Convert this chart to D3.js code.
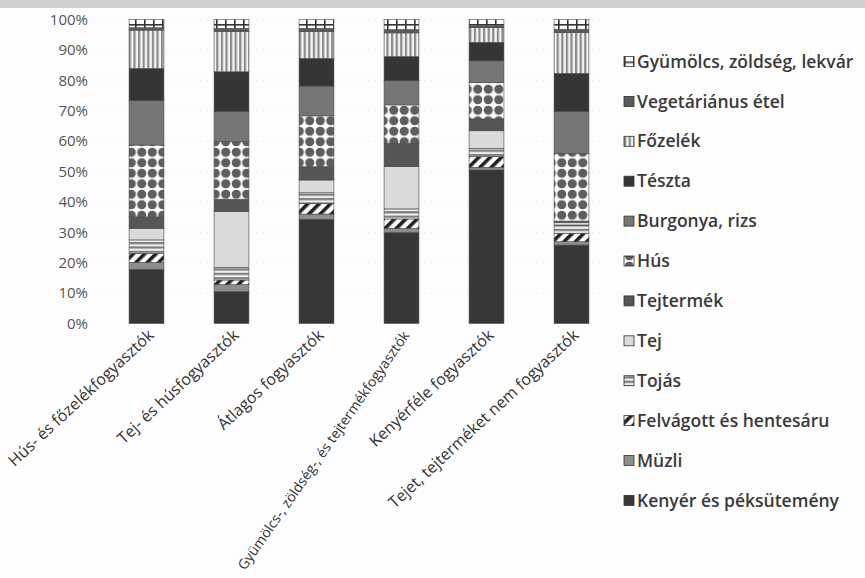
<!DOCTYPE html>
<html>
<head>
<meta charset="utf-8">
<script src="https://cdn.jsdelivr.net/npm/d3@7"></script>
<style>
  html, body { margin: 0; padding: 0; background: #fdfdfd; }
  svg { display: block; }
  text { font-family: "Open Sans", "Noto Sans", sans-serif; }
</style>
</head>
<body>
<svg id="chart" width="865" height="578"></svg>
<script>
// Consumer groups (x categories)
const groups = [
  "Hús- és főzelékfogyasztók",
  "Tej- és húsfogyasztók",
  "Átlagos fogyasztók",
  "Gyümölcs-, zöldség-, és tejtermékfogyasztók",
  "Kenyérféle fogyasztók",
  "Tejet, tejterméket nem fogyasztók"
];

// Food categories, bottom of the stack first
const foods = [
  "Kenyér és péksütemény", "Müzli", "Felvágott és hentesáru", "Tojás", "Tej",
  "Tejtermék", "Hús", "Burgonya, rizs", "Tészta", "Főzelék",
  "Vegetáriánus étel", "Gyümölcs, zöldség, lekvár"
];

// Share of each food (%) per group, in the order of `groups`
const kenyer      = [17.8, 10.5, 34.3, 29.9, 50.5, 25.8];
const muzli       = [ 2.3,  2.3,  1.7,  1.4,  0.9,  1.1];
const felvagott   = [ 3.0,  1.5,  3.5,  3.1,  3.5,  2.8];
const tojas       = [ 4.4,  4.1,  3.5,  3.3,  2.7,  2.7];
const tej         = [ 3.8, 18.4,  4.2, 13.9,  5.8,  0.9];
const tejtermek   = [ 3.8,  4.1,  4.4,  7.7,  3.9,  0.4];
const hus         = [23.6, 18.9, 16.7, 12.6, 11.9, 22.3];
const burgonya    = [14.6,  9.9,  9.8,  8.0,  7.2, 13.7];
const teszta      = [10.6, 13.1,  9.1,  7.9,  6.1, 12.6];
const fozelek     = [12.6, 13.2,  8.8,  7.8,  4.9, 13.4];
const vegetarianus= [ 0.8,  1.1,  1.1,  1.1,  0.5,  1.1];
const gyumolcs    = [ 2.7,  2.9,  2.9,  3.3,  2.1,  3.2];

const seriesValues = [kenyer, muzli, felvagott, tojas, tej, tejtermek,
                      hus, burgonya, teszta, fozelek, vegetarianus, gyumolcs];

const yTicks = [0, 10, 20, 30, 40, 50, 60, 70, 80, 90, 100];

// ---- build rows for d3.stack ----
const rows = groups.map((g, i) => {
  const r = { group: g };
  foods.forEach((f, k) => { r[f] = seriesValues[k][i]; });
  return r;
});

const svg = d3.select("#chart");

// pattern / fill definitions
const defs = svg.append("defs");

function pat(id, w, h, draw) {
  const p = defs.append("pattern").attr("id", id)
    .attr("patternUnits", "userSpaceOnUse").attr("width", w).attr("height", h);
  draw(p);
}
// fruit: white cells with dark grid lines
pat("p-gyum", 9, 12, p => {
  p.append("rect").attr("width", 9).attr("height", 12).attr("fill", "#fff");
  p.append("rect").attr("x", 0).attr("y", 0).attr("width", 1.6).attr("height", 12).attr("fill", "#333");
  p.append("rect").attr("x", 0).attr("y", 0).attr("width", 9).attr("height", 1.6).attr("fill", "#333");
});
// vegetables: vertical stripes
pat("p-foz", 4.6, 10, p => {
  p.append("rect").attr("width", 4.6).attr("height", 10).attr("fill", "#f4f4f4");
  p.append("rect").attr("x", 0).attr("width", 2.2).attr("height", 10).attr("fill", "#8a8a8a");
});
// meat: dots
pat("p-hus", 10.5, 10.5, p => {
  p.append("rect").attr("width", 10.5).attr("height", 10.5).attr("fill", "#fff");
  p.append("circle").attr("cx", 5.25).attr("cy", 5.25).attr("r", 4.6).attr("fill", "#5e5e5e");
});
// eggs: horizontal stripes
pat("p-tojas", 10, 4.4, p => {
  p.append("rect").attr("width", 10).attr("height", 4.4).attr("fill", "#eee");
  p.append("rect").attr("y", 0).attr("width", 10).attr("height", 2.2).attr("fill", "#7d7d7d");
});
// cold cuts: diagonal hatch
pat("p-felv", 8, 8, p => {
  p.attr("patternTransform", "rotate(45)");
  p.append("rect").attr("width", 8).attr("height", 8).attr("fill", "#fff");
  p.append("rect").attr("x", 0).attr("width", 3.6).attr("height", 8).attr("fill", "#222");
});

const fills = {
  "Kenyér és péksütemény": "#363636",
  "Müzli": "#8d8d8d",
  "Felvágott és hentesáru": "url(#p-felv)",
  "Tojás": "url(#p-tojas)",
  "Tej": "#dadada",
  "Tejtermék": "#555",
  "Hús": "url(#p-hus)",
  "Burgonya, rizs": "#767676",
  "Tészta": "#353535",
  "Főzelék": "url(#p-foz)",
  "Vegetáriánus étel": "#5a5a5a",
  "Gyümölcs, zöldség, lekvár": "url(#p-gyum)"
};

// faint band along the top edge of the page
svg.append("rect").attr("x", 0).attr("y", 0).attr("width", 865).attr("height", 8)
  .attr("fill", "#cfcfcf");

// ---- scales ----
const x = d3.scaleBand().domain(groups).range([104, 614])
  .paddingInner(0.59).paddingOuter(0.295);
const y = d3.scaleLinear().domain([0, 100]).range([323.5, 19.5]);

// faint dotted gridlines
svg.append("g").selectAll("line").data(yTicks.filter(t => t > 0)).join("line")
  .attr("x1", 95).attr("x2", 600)
  .attr("y1", d => y(d)).attr("y2", d => y(d))
  .attr("stroke", "#e2e2e2").attr("stroke-width", 1).attr("stroke-dasharray", "1,6");

const stack = d3.stack().keys(foods);
const layers = stack(rows);

// ---- bars ----
const g = svg.append("g");
g.selectAll("g.layer").data(layers).join("g").attr("class", "layer")
  .attr("fill", d => fills[d.key])
  .selectAll("rect").data(d => d).join("rect")
  .attr("x", d => x(d.data.group))
  .attr("width", x.bandwidth())
  .attr("y", d => y(d[1]))
  .attr("height", d => y(d[0]) - y(d[1]))
  .attr("stroke", "#4a4a4a").attr("stroke-width", 0.6);

// ---- y axis ----
const yAxis = d3.axisLeft(y).tickValues(yTicks).tickFormat(d => d + "%").tickSize(0).tickPadding(0);
const ya = svg.append("g").attr("transform", "translate(88,0)").call(yAxis);
ya.select(".domain").remove();
ya.selectAll("text").attr("fill", "#555").attr("font-size", 15);

// ---- x axis ----
const longLabel = groups[3];
const xAxis = d3.axisBottom(x).tickSize(0).tickPadding(0);
const xa = svg.append("g").attr("transform", "translate(5,333)").call(xAxis);
xa.select(".domain").remove();
xa.selectAll("text")
  .attr("fill", "#333")
  .attr("font-size", d => d === longLabel ? 14 : 16)
  .attr("text-anchor", "end").attr("dy", "0.3em")
  .attr("transform", d => d === longLabel ? "rotate(-55)" : "rotate(-43)");

// ---- legend (top of the stack first) ----
const legendItems = foods.slice().reverse();
const lg = svg.append("g").selectAll("g").data(legendItems).join("g")
  .attr("transform", (d, i) => `translate(624,${61.5 + i * 39.9})`);
lg.append("rect").attr("x", 0).attr("y", -5).attr("width", 10).attr("height", 10)
  .attr("fill", d => fills[d]).attr("stroke", "#333").attr("stroke-width", 0.8);
lg.append("text").attr("x", 13).attr("y", 0).attr("dy", "0.35em")
  .attr("fill", "#3a3a3a").attr("font-size", 17.5).attr("font-weight", 600)
  .text(d => d);
</script>
</body>
</html>
